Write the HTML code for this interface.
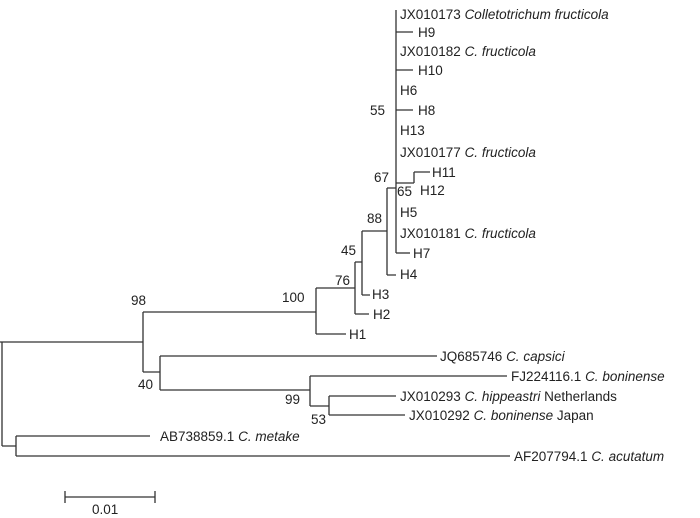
<!DOCTYPE html>
<html><head><meta charset="utf-8"><style>
html,body{margin:0;padding:0;background:#fff;}
svg{display:block}
text{font-family:"Liberation Sans",sans-serif;font-size:13.5px;fill:#222}
.i{font-style:italic}
</style></head><body>
<svg width="700" height="518" viewBox="0 0 700 518" xmlns="http://www.w3.org/2000/svg">
<g stroke="#333" stroke-width="1.3" fill="none">
<!-- top clade -->
<path d="M396 10V253"/>
<path d="M396 32H413M396 70H413M396 110H413"/>
<path d="M396 183H414M414 172V183M414 172H430"/>
<path d="M396 253H410"/>
<path d="M387 188H396M387 188V275M387 275H396"/>
<path d="M362 231H387M362 231V295M362 295H370"/>
<path d="M355 262H362M355 262V314M355 314H369"/>
<path d="M316 288H355M316 288V334M316 334H346"/>
<path d="M143 312H316M143 312V372"/>
<path d="M143 372H160M160 356V390M160 356H437M160 390H310"/>
<path d="M310 376V406M310 376H507M310 406H329M329 396V415M329 396H396M329 415H405"/>
<path d="M0 342H143"/>
<path d="M2 342V446M2 446H16M16 436V456M16 436H150M16 456H510"/>
<path d="M65 497H155M65 491V503M155 491V503"/>
</g>
<text x="400" y="19">JX010173 <tspan class="i">Colletotrichum fructicola</tspan></text>
<text x="418" y="37">H9</text>
<text x="400" y="56">JX010182 <tspan class="i">C. fructicola</tspan></text>
<text x="418" y="75">H10</text>
<text x="400" y="95">H6</text>
<text x="418" y="115">H8</text>
<text x="400" y="135">H13</text>
<text x="400" y="157">JX010177 <tspan class="i">C. fructicola</tspan></text>
<text x="432" y="177">H11</text>
<text x="420" y="195">H12</text>
<text x="400" y="217">H5</text>
<text x="400" y="238">JX010181 <tspan class="i">C. fructicola</tspan></text>
<text x="413" y="258">H7</text>
<text x="400" y="279">H4</text>
<text x="372" y="299">H3</text>
<text x="373" y="319">H2</text>
<text x="349" y="339">H1</text>
<text x="440" y="361">JQ685746 <tspan class="i">C. capsici</tspan></text>
<text x="511" y="381">FJ224116.1 <tspan class="i">C. boninense</tspan></text>
<text x="400" y="401">JX010293 <tspan class="i">C. hippeastri</tspan> Netherlands</text>
<text x="409" y="420">JX010292 <tspan class="i">C. boninense</tspan> Japan</text>
<text x="160" y="441">AB738859.1 <tspan class="i">C. metake</tspan></text>
<text x="514" y="461">AF207794.1 <tspan class="i">C. acutatum</tspan></text>
<text x="370" y="115">55</text>
<text x="374" y="182">67</text>
<text x="397" y="196">65</text>
<text x="367" y="223">88</text>
<text x="341" y="255">45</text>
<text x="335" y="285">76</text>
<text x="282" y="302">100</text>
<text x="131" y="305">98</text>
<text x="138" y="389">40</text>
<text x="285" y="404">99</text>
<text x="311" y="424">53</text>
<text x="92" y="514">0.01</text>
</svg>
</body></html>
